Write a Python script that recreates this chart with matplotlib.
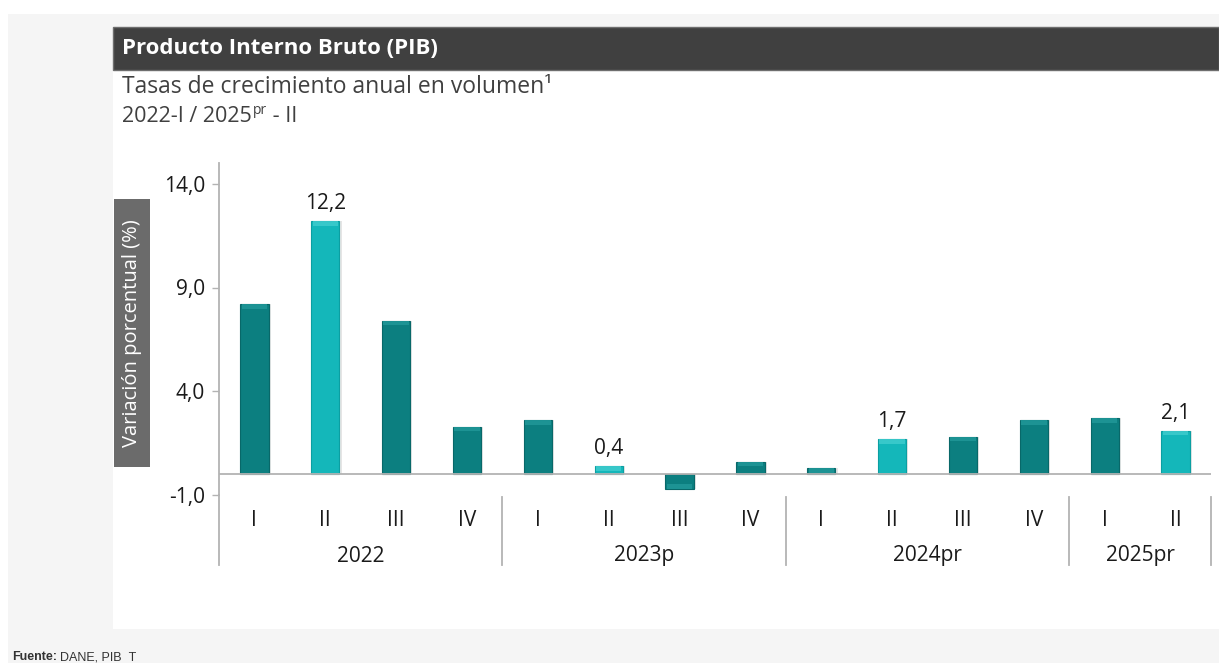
import matplotlib
matplotlib.use("Agg")
import matplotlib.pyplot as plt
from matplotlib.patches import Rectangle
import matplotlib.transforms as mtransforms

plt.rcParams['font.family'] = ['Open Sans', 'DejaVu Sans']

# ---------------- data ----------------
quarters = ["I", "II", "III", "IV", "I", "II", "III", "IV",
            "I", "II", "III", "IV", "I", "II"]
years = ["2022", "2023p", "2024pr", "2025pr"]
year_counts = [4, 4, 4, 2]
values = [8.2, 12.2, 7.4, 2.3, 2.6, 0.4, -0.7, 0.6,
          0.3, 1.7, 1.8, 2.6, 2.7, 2.1]
highlight = [False, True, False, False, False, True, False, False,
             False, True, False, False, False, True]
yticks = [-1.0, 4.0, 9.0, 14.0]

title = "Producto Interno Bruto (PIB)"
subtitle = "Tasas de crecimiento anual en volumen\u00b9"
ylabel = "Variación porcentual (%)"

# ---------------- figure ----------------
W, H = 1219, 663
fig = plt.figure(figsize=(W / 100, H / 100), dpi=100)
fig.patch.set_facecolor("white")

def px_rect(x0, y0, x1, y1, **kw):
    r = Rectangle((x0 / W, 1 - y1 / H), (x1 - x0) / W, (y1 - y0) / H,
                  transform=fig.transFigure, **kw)
    fig.patches.append(r)
    return r

# backgrounds
px_rect(8, 14, W, H, facecolor="#f5f5f5", edgecolor="none", zorder=-3)
px_rect(113, 70, W, 629, facecolor="white", edgecolor="none", zorder=-2)
px_rect(113, 27, W, 70, facecolor="#404040", edgecolor="#6e6e6e", lw=1.0, zorder=-1)

fig.text(122 / W, 1 - 48.5 / H, title, color="white", fontsize=16,
         fontweight="bold", va="center", ha="left", zorder=3)
fig.text(122 / W, 1 - 87 / H, subtitle, color="#404040", fontsize=16.5,
         va="center", ha="left")

# second subtitle line with superscript
t1 = fig.text(122 / W, 1 - 117 / H, "2022-I / 2025", color="#404040",
              fontsize=15.5, va="center", ha="left")
fig.canvas.draw()
r = fig.canvas.get_renderer()
bb = t1.get_window_extent(r)
t2 = fig.text(bb.x1 / W + 0.0008, 1 - 111 / H, "pr", color="#404040",
              fontsize=10, va="center", ha="left")
bb2 = t2.get_window_extent(r)
fig.text(bb2.x1 / W, 1 - 117 / H, " - II", color="#404040",
         fontsize=15.5, va="center", ha="left")

# y label box
px_rect(114, 199, 150, 467, facecolor="#6b6b6b", edgecolor="none", zorder=-1)
fig.text(132 / W, 1 - 333 / H, ylabel, rotation=90, color="white",
         fontsize=14.5, va="center", ha="center", zorder=3)

# footer
f1 = fig.text(12 / W, 1 - 651 / H, "Fuente:", fontsize=9, fontweight="bold",
              family="Liberation Sans", color="#333333", va="top", ha="left")
bbf = f1.get_window_extent(r)
fig.text(bbf.x1 / W + 3 / W, 1 - 651 / H, "DANE, PIB_T", fontsize=9,
         family="Liberation Sans", color="#333333", va="top", ha="left")

# ---------------- axes ----------------
ax = fig.add_axes([219 / W, 1 - 495 / H, 992 / W, 332 / H])
ax.set_zorder(2)
ax.set_facecolor("none")
ax.set_xlim(-0.5, len(values) - 0.5)
ax.set_ylim(-1.0, 15.0)

dark = "#0c7f80"
light = "#14b7ba"
dark_top = "#1f9697"
light_top = "#3ccacc"
x = list(range(len(values)))
cols = [light if h else dark for h in highlight]
tops = [light_top if h else dark_top for h in highlight]
edges = ["#0b9fa2" if h else "#086869" for h in highlight]

# shadow
ax.bar([xi + 0.03 for xi in x], values, width=0.4, color="#000000",
       alpha=0.10, zorder=2)
ax.bar(x, values, width=0.4, color=cols, edgecolor=edges, linewidth=0.8, zorder=3)
# bevel at bar end
bev = 0.22
bev_h = [(-bev if v > 0 else bev) if abs(v) > bev else -v * 0.5 for v in values]
ax.bar(x, bev_h, bottom=values, width=0.36, color=tops, edgecolor="none",
       linewidth=0, zorder=4, alpha=0.9)

ax.axhline(0, color="#b3b3b3", lw=1.3, zorder=5)

for xi, v, h in zip(x, values, highlight):
    if h:
        ax.annotate(f"{v:.1f}".replace(".", ","), (xi, v), xytext=(0, 5),
                    textcoords="offset points", ha="center", va="bottom",
                    fontsize=15, color="#1a1a1a")

ax.set_yticks(yticks)
ax.set_yticklabels([f"{t:.1f}".replace(".", ",") for t in yticks],
                   fontsize=15, color="#1a1a1a")
ax.tick_params(axis="y", length=5, width=1, color="#b3b3b3", pad=5)
ax.set_xticks([])
for s in ["top", "right", "bottom"]:
    ax.spines[s].set_visible(False)
ax.spines["left"].set_color("#b3b3b3")
ax.spines["left"].set_linewidth(1.3)

trans = mtransforms.blended_transform_factory(ax.transData, ax.transAxes)
y_q = -(520 - 495) / 332
y_y = -(556 - 495) / 332
y_sep0 = -(497 - 495) / 332
y_sep1 = -(565 - 495) / 332

for xi, q in zip(x, quarters):
    ax.text(xi, y_q, q, transform=trans, ha="center", va="center",
            fontsize=15, color="#1a1a1a")

start = 0
seps = [-0.5]
for yname, n in zip(years, year_counts):
    ax.text(start + (n - 1) / 2, y_y, yname, transform=trans, ha="center",
            va="center", fontsize=15, color="#1a1a1a")
    start += n
    seps.append(start - 0.5)

for i, s in enumerate(seps):
    y0 = 0 if i == 0 else y_sep0
    ax.plot([s, s], [y0, y_sep1], transform=trans, color="#b3b3b3", lw=1.3,
            clip_on=False, zorder=1)

fig.savefig("out.png", dpi=100, facecolor=fig.get_facecolor())
